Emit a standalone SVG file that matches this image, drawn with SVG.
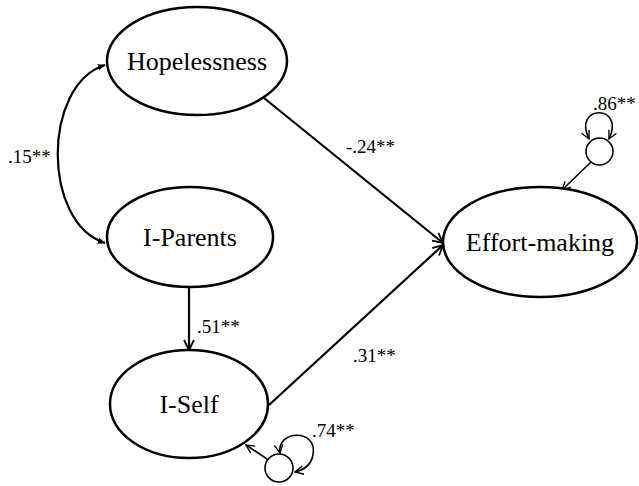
<svg xmlns="http://www.w3.org/2000/svg" width="639" height="486" viewBox="0 0 639 486" font-family="Liberation Serif, Times New Roman, serif">
<defs>
<marker id="open" viewBox="0 0 12 12" refX="11" refY="6" markerWidth="12" markerHeight="12" markerUnits="userSpaceOnUse" orient="auto">
<path d="M1,1 L11,6 L1,11" fill="none" stroke="#000" stroke-width="1.8"/>
</marker>
<marker id="openS" viewBox="0 0 12 12" refX="11" refY="6" markerWidth="10" markerHeight="10" markerUnits="userSpaceOnUse" orient="auto-start-reverse">
<path d="M1,1 L11,6 L1,11" fill="none" stroke="#000" stroke-width="1.6"/>
</marker>
<marker id="fill" viewBox="0 0 10 10" refX="9" refY="5" markerWidth="8" markerHeight="8" markerUnits="userSpaceOnUse" orient="auto-start-reverse">
<path d="M0,1 L10,5 L0,9 Z" fill="#000"/>
</marker>
</defs>
<g id="connectors" fill="none" stroke="#000">
<path stroke-width="2.2" d="M105,65 C42,85 42,223 105,243" marker-start="url(#fill)" marker-end="url(#fill)"/>
<line stroke-width="2.2" x1="264" y1="98" x2="443" y2="243" marker-end="url(#open)"/>
<line stroke-width="2.2" x1="269" y1="405" x2="443" y2="245" marker-end="url(#open)"/>
<line stroke-width="2.2" x1="189" y1="287" x2="189" y2="350" marker-end="url(#open)"/>
<line stroke-width="1.6" x1="591" y1="162" x2="562" y2="190" marker-end="url(#openS)"/>
<path stroke-width="1.6" d="M589,139 C572,104 626,104 609,139" marker-start="url(#openS)" marker-end="url(#openS)"/>
<line stroke-width="1.6" x1="267" y1="459" x2="246" y2="445" marker-end="url(#openS)"/>
<path stroke-width="1.6" d="M280,453 C276,430 318,428 313,455 C311,465 304,470 295,472" marker-start="url(#openS)" marker-end="url(#openS)"/>
</g>
<g id="hopelessness">
<ellipse cx="197" cy="61" rx="90" ry="54" fill="#fff" stroke="#000" stroke-width="2.5"/>
<text x="197" y="70" font-family="Liberation Serif" font-size="26" text-anchor="middle">Hopelessness</text>
</g>
<g id="i-parents">
<ellipse cx="190" cy="237" rx="83" ry="50" fill="#fff" stroke="#000" stroke-width="2.5"/>
<text x="190" y="246" font-family="Liberation Serif" font-size="26" text-anchor="middle">I-Parents</text>
</g>
<g id="i-self">
<ellipse cx="189" cy="404" rx="79" ry="54" fill="#fff" stroke="#000" stroke-width="2.5"/>
<text x="189" y="413" font-family="Liberation Serif" font-size="26" text-anchor="middle">I-Self</text>
</g>
<g id="effort-making">
<ellipse cx="540" cy="242" rx="97" ry="55" fill="#fff" stroke="#000" stroke-width="2.5"/>
<text x="540" y="251" font-family="Liberation Serif" font-size="26" text-anchor="middle">Effort-making</text>
</g>
<g id="e-effort">
<circle cx="599.5" cy="151.5" r="13.5" fill="#fff" stroke="#000" stroke-width="1.6"/>
</g>
<g id="e-iself">
<circle cx="279" cy="468" r="14" fill="#fff" stroke="#000" stroke-width="1.6"/>
</g>
<g id="labels" font-size="19">
<text x="8" y="163" font-family="Liberation Serif">.15**</text>
<text x="346" y="153" font-family="Liberation Serif">-.24**</text>
<text x="593" y="110" font-family="Liberation Serif">.86**</text>
<text x="197" y="333" font-family="Liberation Serif">.51**</text>
<text x="353" y="362" font-family="Liberation Serif">.31**</text>
<text x="312" y="437" font-family="Liberation Serif">.74**</text>
</g>
</svg>
